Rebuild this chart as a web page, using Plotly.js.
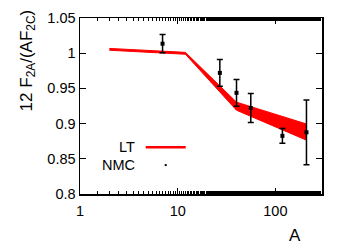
<!DOCTYPE html>
<html>
<head>
<meta charset="utf-8">
<script src="https://cdn.plot.ly/plotly-3.0.1.min.js"></script>
<style>html,body{margin:0;padding:0;background:#fff;}#chart{width:350px;height:245px;}</style>
</head>
<body>
<div id="chart"></div>
<script>
// LT band (upper / lower edges)
var ltA = [2, 12, 40, 208];
var ltUpper = [1.0068, 1.0012, 0.9305, 0.8995];
var ltLower = [1.0042, 0.9985, 0.9190, 0.8765];
// NMC points
var nmcA = [7, 27, 40, 56, 118, 208];
var nmcY = [1.0135, 0.9720, 0.9437, 0.9222, 0.8826, 0.8876];
var nmcErr = [0.013, 0.019, 0.019, 0.0205, 0.0105, 0.046];
// ticks
var yTicks = [0.8, 0.85, 0.9, 0.95, 1, 1.05];
var yTickText = ['0.8', '0.85', '0.9', '0.95', '1', '1.05'];
var xTicks = [1, 10, 100];
var xTickText = ['1', '10', '100'];

var F = 'Liberation Sans, Arial, sans-serif';
var traces = [
  {x: ltA, y: ltLower, mode: 'lines', line: {color: '#ff0000', width: 1}, showlegend: false, hoverinfo: 'skip'},
  {x: ltA, y: ltUpper, mode: 'lines', fill: 'tonexty', fillcolor: '#ff0000', line: {color: '#ff0000', width: 1}, showlegend: false, hoverinfo: 'skip'},
  {x: nmcA, y: nmcY, mode: 'markers', marker: {color: '#000', size: 4, symbol: 'square'},
   error_y: {type: 'data', array: nmcErr, visible: true, color: '#000', thickness: 1.5, width: 3}, showlegend: false}
];
var PL = 80, PR = 322, PT = 17.5, PB = 194;
function px(x){return (x-PL)/(PR-PL);}
function py(y){return (PB-y)/(PB-PT);}
var layout = {
  width: 350, height: 245,
  margin: {l: PL, r: 350-PR, t: PT, b: 245-PB},
  paper_bgcolor: '#fff', plot_bgcolor: '#fff',
  font: {family: F, size: 14, color: '#000'},
  showlegend: false,
  xaxis: {type: 'log', range: [0, Math.log10(300)], tickvals: xTicks, ticktext: xTickText,
    ticks: 'inside', ticklen: 6, tickwidth: 1, tickcolor: '#000', ticklabelstandoff: 3,
    minor: {ticks: 'inside', ticklen: 3, tickwidth: 1, tickcolor: '#000', showgrid: false},
    showline: true, linecolor: '#000', linewidth: 1.5, mirror: 'ticks', showgrid: false, zeroline: false,
    tickfont: {size: 14.5}},
  yaxis: {range: [0.8, 1.05], tickvals: yTicks, ticktext: yTickText,
    ticks: 'inside', ticklen: 6, tickwidth: 1, tickcolor: '#000',
    showline: true, linecolor: '#000', linewidth: 1.5, mirror: 'ticks', showgrid: false, zeroline: false,
    tickfont: {size: 14.5}},
  annotations: [
    {xref: 'paper', yref: 'paper', x: px(28), y: py(60), text: '12 F<sub>2A</sub>/(AF<sub>2C</sub>)', textangle: -90,
     showarrow: false, xanchor: 'center', yanchor: 'middle', font: {size: 17}},
    {xref: 'paper', yref: 'paper', x: px(295), y: py(236), text: 'A', showarrow: false,
     xanchor: 'center', yanchor: 'middle', font: {size: 17}},
    {xref: 'paper', yref: 'paper', x: px(137), y: py(147.3), text: 'LT', showarrow: false,
     xanchor: 'right', yanchor: 'middle', font: {size: 14.5}},
    {xref: 'paper', yref: 'paper', x: px(137), y: py(165), text: 'NMC', showarrow: false,
     xanchor: 'right', yanchor: 'middle', font: {size: 14.5}}
  ],
  shapes: [
    {type: 'line', xref: 'paper', yref: 'paper', x0: px(145.7), x1: px(185.7), y0: py(147), y1: py(147),
     line: {color: '#ff0000', width: 2.5}},
    {type: 'rect', xref: 'paper', yref: 'paper', x0: px(164.7), x1: px(166.7), y0: py(166), y1: py(164),
     fillcolor: '#000', line: {width: 0}}
  ]
};
Plotly.newPlot('chart', traces, layout, {displayModeBar: false, staticPlot: true});
</script>
</body>
</html>
